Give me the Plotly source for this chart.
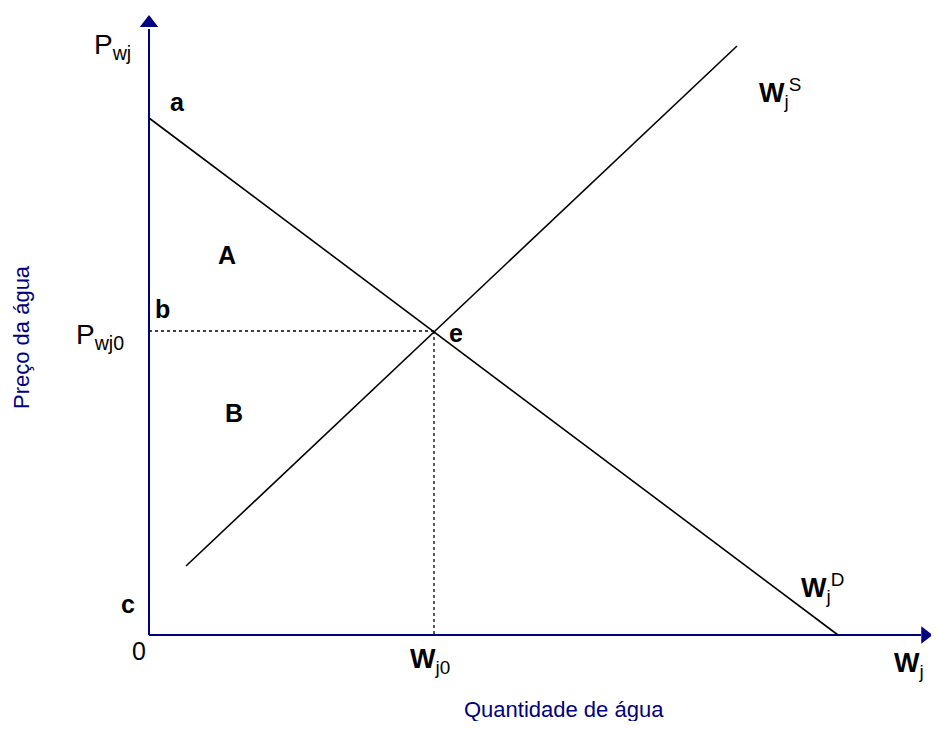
import plotly.graph_objects as go

# Economic coordinates (origin at the axes' corner)
demand_x = [0, 689]
demand_y = [517, 0]
supply_x = [37, 588]
supply_y = [69, 589]
eq_x = 285
eq_y = 304

NAVY = "#000080"
FONT = "Liberation Sans, Arial, sans-serif"

fig = go.Figure()

# axes
fig.add_trace(go.Scatter(x=[0, 0], y=[0, 606], mode="lines",
                         line=dict(color=NAVY, width=2), hoverinfo="skip"))
fig.add_trace(go.Scatter(x=[0, 772], y=[0, 0], mode="lines",
                         line=dict(color=NAVY, width=2), hoverinfo="skip"))
fig.add_trace(go.Scatter(x=[0], y=[612], mode="markers",
                         marker=dict(symbol="triangle-up", size=16, color=NAVY), hoverinfo="skip"))
fig.add_trace(go.Scatter(x=[776], y=[0], mode="markers",
                         marker=dict(symbol="triangle-right", size=15, color=NAVY),
                         cliponaxis=False, hoverinfo="skip"))

# demand & supply
fig.add_trace(go.Scatter(x=demand_x, y=demand_y, mode="lines",
                         line=dict(color="black", width=1.6), hoverinfo="skip"))
fig.add_trace(go.Scatter(x=supply_x, y=supply_y, mode="lines",
                         line=dict(color="black", width=1.6), hoverinfo="skip"))

# dotted guides
fig.add_trace(go.Scatter(x=[0, eq_x], y=[eq_y, eq_y], mode="lines",
                         line=dict(color="black", width=1.3, dash="dot"), hoverinfo="skip"))
fig.add_trace(go.Scatter(x=[eq_x, eq_x], y=[eq_y, 0], mode="lines",
                         line=dict(color="black", width=1.3, dash="dot"), hoverinfo="skip"))

labels = [
    ("<b>a</b>", 28, 533, 25),
    ("<b>b</b>", 13, 326, 25),
    ("<b>c</b>", -21, 31, 25),
    ("0", -10, -16, 25),
    ("<b>A</b>", 78, 380, 25),
    ("<b>B</b>", 85, 222, 25),
    ("<b>e</b>", 307, 302, 25),
    ("P<sub>wj</sub>", -37, 589, 28),
    ("P<sub>wj0</sub>", -49, 299, 28),
    ("<b>W</b><sub>j0</sub>", 281, -26, 27),
    ("<b>W</b><sub>j</sub>", 760, -30, 27),
    ("<b>W</b><sub>j</sub><sup>S</sup>", 631, 542, 27),
    ("<b>W</b><sub>j</sub><sup>D</sup>", 673, 47, 27),
]
for txt, x, y, s in labels:
    fig.add_annotation(x=x, y=y, text=txt, showarrow=False,
                       font=dict(family=FONT, size=s, color="black"),
                       xanchor="center", yanchor="middle")

fig.add_annotation(x=415, y=-74, text="Quantidade de água", showarrow=False,
                   font=dict(family=FONT, size=22, color=NAVY),
                   xanchor="center", yanchor="middle")
fig.add_annotation(x=-128, y=298, text="Preço da água", showarrow=False, textangle=-90,
                   font=dict(family=FONT, size=22, color=NAVY),
                   xanchor="center", yanchor="middle")

# page body has an 8px margin: size the figure so it fits inside the window
fig.update_layout(
    width=923, height=713,
    margin=dict(l=0, r=0, t=0, b=0),
    paper_bgcolor="white", plot_bgcolor="white",
    showlegend=False,
    xaxis=dict(range=[-141, 782], visible=False, fixedrange=True),
    yaxis=dict(range=[-86, 627], visible=False, fixedrange=True),
)

fig.write_html("out.html")
